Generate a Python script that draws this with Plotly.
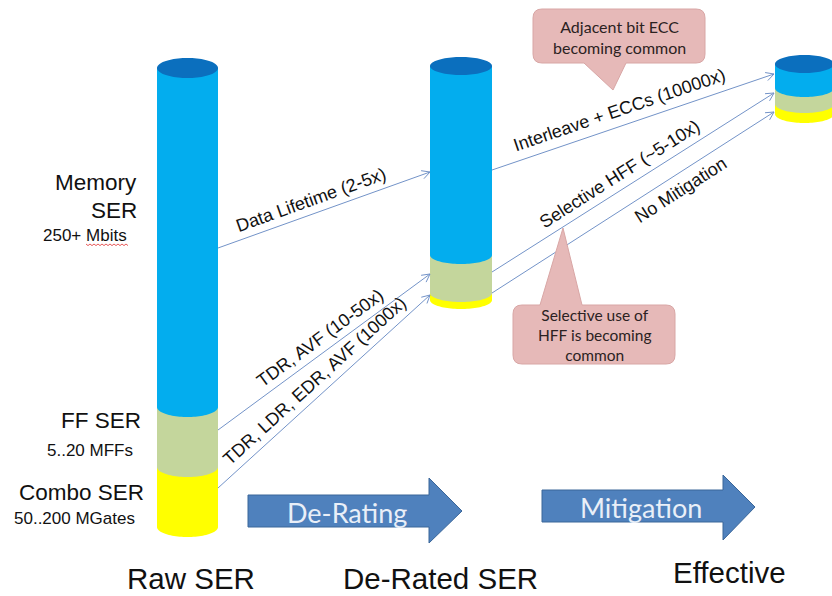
import math
import plotly.graph_objects as go

# ---------------- data ----------------
stages = ["Raw SER", "De-Rated SER", "Effective"]
memory_ser = [339, 189, 24]   # blue segment heights
ff_ser = [60, 38, 16]         # green segment heights
combo_ser = [60, 7, 10]       # yellow segment heights

derating_labels = ["Data Lifetime (2-5x)", "TDR, AVF (10-50x)", "TDR, LDR, EDR, AVF (1000x)"]
mitigation_labels = ["Interleave + ECCs (10000x)", "Selective HFF (~5-10x)", "No Mitigation"]
callout_texts = ["Adjacent bit ECC<br>becoming common", "Selective use of<br>HFF is becoming<br>common"]
process_labels = ["De-Rating", "Mitigation"]

# ---------------- geometry / styles ----------------
W, H = 832, 596
cyl_cx = [187.5, 461, 804.5]
cyl_rx = [30.5, 31, 29.5]
cyl_ry = [10, 9, 9]
cyl_base = [527, 300, 114]
C_BLUE, C_CAP, C_GREEN, C_YELLOW = "#03adee", "#0b6fbe", "#c4d69c", "#ffff00"
LINE_C = "#7393c8"
FONT = "Liberation Sans, Arial, sans-serif"
CAL = "Lato, Open Sans, sans-serif"

shapes = []
annotations = []


def ell_pts(cx, cy, rx, ry, t0, t1, n=48):
    return [(cx + rx * math.cos(t0 + (t1 - t0) * i / n), cy + ry * math.sin(t0 + (t1 - t0) * i / n)) for i in range(n + 1)]


def path_from(pts, close=True):
    s = "M " + " L ".join(f"{x:.2f},{y:.2f}" for x, y in pts)
    return s + (" Z" if close else "")


# cylinders
for i in range(3):
    cx, rx, ry = cyl_cx[i], cyl_rx[i], cyl_ry[i]
    yb = cyl_base[i]
    segs = [(combo_ser[i], C_YELLOW), (ff_ser[i], C_GREEN), (memory_ser[i], C_BLUE)]
    bottoms = []
    y = yb
    for h, col in segs:
        bottoms.append((y - h, y, col))
        y -= h
    top_y = y
    for yt, ybot, col in bottoms:
        pts = [(cx - rx, yt), (cx + rx, yt)] + ell_pts(cx, ybot, rx, ry, 0, math.pi)
        shapes.append(dict(type="path", path=path_from(pts), fillcolor=col, line=dict(width=0), xref="x", yref="y"))
    shapes.append(dict(type="path", path=path_from(ell_pts(cx, top_y, rx, ry, 0, 2 * math.pi, 80)),
                       fillcolor=C_CAP, line=dict(width=0), xref="x", yref="y"))

# connector lines with open arrowheads
links = [
    (218, 248, 430, 172), (218, 430, 430, 274), (218, 488, 430, 295),
    (492, 170, 774, 74), (492, 272, 774, 93), (492, 293, 774, 112),
]
label_place = [(0.46, 14), (0.52, 14), (0.5, 14), (0.47, 16), (0.48, 14), (0.64, -15)]
labels = derating_labels + mitigation_labels
for (x0, y0, x1, y1), txt, (t, off) in zip(links, labels, label_place):
    shapes.append(dict(type="line", x0=x0, y0=y0, x1=x1, y1=y1, line=dict(color=LINE_C, width=1), xref="x", yref="y"))
    dx, dy = x1 - x0, y1 - y0
    L = math.hypot(dx, dy)
    ux, uy = dx / L, dy / L
    ah = []
    for s in (1, -1):
        a = math.radians(28) * s
        bx = -ux * math.cos(a) - (-uy) * math.sin(a)
        by = -ux * math.sin(a) + (-uy) * math.cos(a)
        ah.append((x1 + 9 * bx, y1 + 9 * by))
    shapes.append(dict(type="path", path=path_from([ah[0], (x1, y1), ah[1]], close=False),
                       line=dict(color=LINE_C, width=1), xref="x", yref="y"))
    nx, ny = uy, -ux
    px, py = x0 + dx * t + off * nx, y0 + dy * t + off * ny
    annotations.append(dict(x=px, y=py, text=txt, showarrow=False, textangle=math.degrees(math.atan2(dy, dx)),
                            font=dict(family=FONT, size=18, color="#111111"), xanchor="center", yanchor="middle"))


# callouts
def rounded_callout(x0, y0, x1, y1, r, tail_side, tl, tr, tip):
    if tail_side == "top":
        pts = f"M {x0+r},{y0} L {tl},{y0} L {tip[0]},{tip[1]} L {tr},{y0} L {x1-r},{y0} Q {x1},{y0} {x1},{y0+r} " \
              f"L {x1},{y1-r} Q {x1},{y1} {x1-r},{y1} L {x0+r},{y1} Q {x0},{y1} {x0},{y1-r} L {x0},{y0+r} Q {x0},{y0} {x0+r},{y0} Z"
    else:
        pts = f"M {x0+r},{y0} L {x1-r},{y0} Q {x1},{y0} {x1},{y0+r} L {x1},{y1-r} Q {x1},{y1} {x1-r},{y1} " \
              f"L {tr},{y1} L {tip[0]},{tip[1]} L {tl},{y1} L {x0+r},{y1} Q {x0},{y1} {x0},{y1-r} L {x0},{y0+r} Q {x0},{y0} {x0+r},{y0} Z"
    return pts


shapes.append(dict(type="path", path=rounded_callout(533, 9, 705, 63, 9, "bottom", 584, 626, (613, 90)),
                   fillcolor="#e6b9b8", line=dict(color="#d8a6a5", width=1), xref="x", yref="y"))
shapes.append(dict(type="path", path=rounded_callout(513, 305, 675, 364, 9, "top", 540, 582, (563, 228)),
                   fillcolor="#e6b9b8", line=dict(color="#d8a6a5", width=1), xref="x", yref="y"))
annotations.append(dict(x=619, y=37, text=callout_texts[0], showarrow=False,
                        font=dict(family=CAL, size=16, color="#2b2222"), xanchor="center", yanchor="middle"))
annotations.append(dict(x=594, y=335, text=callout_texts[1], showarrow=False,
                        font=dict(family=CAL, size=15.5, color="#2b2222"), xanchor="center", yanchor="middle"))

# block arrows
blocks = [(248, 495, 527, 429, 478, 543, 462, 511), (542, 490, 522, 723, 475, 540, 755, 507)]
for (x0, b0, b1, xh, h0, h1, tx, ty), txt in zip(blocks, process_labels):
    pts = [(x0, b0), (xh, b0), (xh, h0), (tx, ty), (xh, h1), (xh, b1), (x0, b1)]
    shapes.append(dict(type="path", path=path_from(pts), fillcolor="#4f81bd",
                       line=dict(color="#3a6699", width=1), xref="x", yref="y"))
    annotations.append(dict(x=(x0 + xh) / 2 + 8, y=(b0 + b1) / 2 + 1, text=txt, showarrow=False,
                            font=dict(family=CAL, size=27, color="#e9eff8"), xanchor="center", yanchor="middle"))

# left-side labels
left = [
    ("Memory", 139, 182, 22.5), ("SER", 139, 210, 22.5), ("250+ Mbits", 129, 235, 17),
    ("FF SER", 143, 420, 22.5), ("5..20 MFFs", 135, 450, 17),
    ("Combo SER", 146, 492, 22.5), ("50..200 MGates", 137, 518, 17),
]
for txt, x, y, sz in left:
    annotations.append(dict(x=x, y=y, text=txt, showarrow=False, xanchor="right", yanchor="middle",
                            font=dict(family=FONT, size=sz, color="#111111")))
# spell-check squiggle under "Mbits"
sq = [(86 + 2 * k, 244 + (k % 2) * 1.6) for k in range(22)]
shapes.append(dict(type="path", path=path_from(sq, close=False), line=dict(color="#e03030", width=0.8),
                   xref="x", yref="y"))

# bottom stage labels
stage_pos = [(191, 578), (440, 578), (729, 572)]
for txt, (x, y) in zip(stages, stage_pos):
    annotations.append(dict(x=x, y=y, text=txt, showarrow=False, xanchor="center", yanchor="middle",
                            font=dict(family=FONT, size=29.5, color="#111111")))

fig = go.Figure()
fig.add_trace(go.Scatter(x=[0, W], y=[0, H], mode="markers", marker=dict(opacity=0), hoverinfo="skip", showlegend=False))
fig.update_layout(
    width=W, height=H, margin=dict(l=0, r=0, t=0, b=0),
    paper_bgcolor="white", plot_bgcolor="white",
    xaxis=dict(range=[0, W], visible=False, fixedrange=True),
    yaxis=dict(range=[H, 0], visible=False, fixedrange=True),
    shapes=shapes, annotations=annotations, showlegend=False,
)
fig.write_html("out.html", config={"displayModeBar": False},
               post_script="document.body.style.margin='0px';document.body.style.overflow='hidden';")
